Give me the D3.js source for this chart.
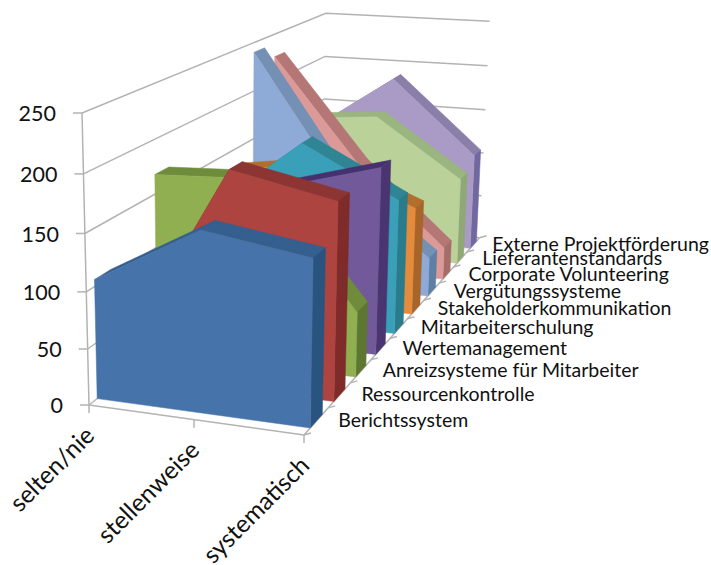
<!DOCTYPE html>
<html>
<head>
<meta charset="utf-8">
<script src="https://cdn.jsdelivr.net/npm/d3@7"></script>
<style>
  html, body { margin: 0; padding: 0; background: #fff; }
  svg { display: block; font-family: Lato, "Open Sans", sans-serif; fill: #111; }
</style>
</head>
<body>
<svg id="chart" width="711" height="565"></svg>
<script>
// Frequency categories along the width of the chart
const categories = ["selten/nie", "stellenweise", "systematisch"];

// Measures, front to back along the depth axis
const series = [
  "Berichtssystem", "Ressourcenkontrolle", "Anreizsysteme für Mitarbeiter",
  "Wertemanagement", "Mitarbeiterschulung", "Stakeholderkommunikation",
  "Vergütungssysteme", "Corporate Volunteering", "Lieferantenstandards",
  "Externe Projektförderung"
];

// Counts per measure, in category order
const berichtssystem = [106, 158, 144];
const ressourcenkontrolle = [30, 194, 175];
const anreizsysteme = [168, 172, 60];
const wertemanagement = [60, 150, 176];
const mitarbeiterschulung = [105, 178, 131];
const stakeholder = [131, 145, 108];
const verguetung = [240, 110, 40];
const corporate = [226, 116, 34];
const lieferanten = [148, 156, 94];
const externe = [123, 187, 107];
const values = [berichtssystem, ressourcenkontrolle, anreizsysteme, wertemanagement,
  mitarbeiterschulung, stakeholder, verguetung, corporate, lieferanten, externe];

const valueTicks = [0, 50, 100, 150, 200, 250];

// Face, top and end-cap colours per measure
const frontColors = ["#4674AA", "#AE4440", "#8FAF50", "#71599A", "#3A9FB8",
  "#E58B3C", "#8EAAD6", "#DB9A98", "#BAD29A", "#A99BC5"];
const topColors = ["#355F8E", "#8C3533", "#6E8C3C", "#46316E", "#2F8593",
  "#B26E2A", "#7590B5", "#B57775", "#9AB57F", "#8A7FA8"];
const sideColors = ["#2A5480", "#7E2B2A", "#5D7732", "#4A3570", "#2A7C8C",
  "#A8652A", "#5F7FA5", "#A56C68", "#8FA876", "#7268A0"];

// Unit-cube scales for the three chart axes
const xScale = d3.scalePoint().domain(categories).range([0, 1]);
const yScale = d3.scaleLinear().domain([0, 250]).range([0, 1]);
const zScale = d3.scaleBand().domain(series).range([0, 1]).paddingInner(0.5).paddingOuter(0.25);

// Perspective camera: cube corners on screen with homogeneous weights
const cam = {
  O: [89, 405], X: [304, 435], Y: [82, 113], Z: [322, 223],
  wx: 0.954, wy: 0.949, wz: 1.416
};
function project(x, y, z) {
  const o = 1 - x - y - z, a = x * cam.wx, b = y * cam.wy, c = z * cam.wz;
  const w = o + a + b + c;
  return [0, 1].map(i => (o * cam.O[i] + a * cam.X[i] + b * cam.Y[i] + c * cam.Z[i]) / w);
}

const svg = d3.select("#chart");
const closed = d3.line().curve(d3.curveLinearClosed);
const gridColor = "#b3b3b3";

function segment(g, a, b) {
  g.append("line")
    .attr("x1", a[0]).attr("y1", a[1]).attr("x2", b[0]).attr("y2", b[1])
    .attr("stroke", gridColor).attr("stroke-width", 1.5);
}

// Walls: gridlines run along the left wall and then across the back wall
const walls = svg.append("g");
valueTicks.forEach(v => {
  const y = yScale(v);
  walls.append("path")
    .attr("d", d3.line()([project(0, y, 0), project(0, y, 1), project(1, y, 1)]))
    .attr("fill", "none").attr("stroke", gridColor).attr("stroke-width", 1.5);
});

// Value axis with its ticks and labels
const axes = svg.append("g");
segment(axes, project(0, 0, 0), project(0, 1, 0));
valueTicks.forEach(v => {
  const p = project(0, yScale(v), 0);
  segment(axes, [p[0] - 9, p[1]], p);
  axes.append("text")
    .attr("x", p[0] - 26).attr("y", p[1] + 3)
    .attr("text-anchor", "end").attr("dominant-baseline", "middle")
    .attr("font-size", 21.5).text(v);
});

// Floor edges, category ticks and depth ticks
segment(axes, project(0, 0, 0), project(1, 0, 0));
segment(axes, project(1, 0, 0), project(1, 0, 1));
categories.forEach(c => {
  const x = xScale(c);
  const p = project(x, 0, 0);
  segment(axes, p, [p[0], p[1] + 8]);
  axes.append("text")
    .attr("transform", `translate(${p[0] + 7},${p[1] + 32}) rotate(-45)`)
    .attr("text-anchor", "end")
    .attr("font-size", 24.5).text(c);
});
d3.range(0, 11).forEach(i => {
  const p = project(1, 0, i / 10);
  segment(axes, p, [p[0] + 7, p[1] - 2]);
});

// Areas, painted from the back of the chart to the front
d3.range(series.length - 1, -1, -1).forEach(i => {
  const g = svg.append("g");
  const z0 = zScale(series[i]), z1 = z0 + zScale.bandwidth();
  const tops = categories.map((c, k) => [xScale(c), yScale(values[i][k])]);

  d3.pairs(tops).forEach(([a, b]) => {
    g.append("path")
      .attr("d", closed([project(a[0], a[1], z0), project(b[0], b[1], z0),
                         project(b[0], b[1], z1), project(a[0], a[1], z1)]))
      .attr("fill", topColors[i]).attr("stroke", topColors[i]).attr("stroke-width", 0.5);
  });

  const end = tops[tops.length - 1];
  g.append("path")
    .attr("d", closed([project(1, 0, z0), project(1, end[1], z0),
                       project(1, end[1], z1), project(1, 0, z1)]))
    .attr("fill", sideColors[i]).attr("stroke", sideColors[i]).attr("stroke-width", 0.5);

  const face = [project(0, 0, z0), ...tops.map(t => project(t[0], t[1], z0)), project(1, 0, z0)];
  g.append("path").attr("d", closed(face))
    .attr("fill", frontColors[i]).attr("stroke", frontColors[i]).attr("stroke-width", 0.5);
});

// Depth axis labels, kept inside the right edge of the page
series.forEach(s => {
  const p = project(1, 0, zScale(s) + zScale.bandwidth() / 2);
  const t = svg.append("text")
    .attr("x", p[0] + 22).attr("y", p[1] + 1)
    .attr("dominant-baseline", "middle")
    .attr("font-size", 19.5).text(s);
  const len = t.node().getComputedTextLength();
  t.attr("x", Math.min(p[0] + 22, 709 - len));
});
</script>
</body>
</html>
